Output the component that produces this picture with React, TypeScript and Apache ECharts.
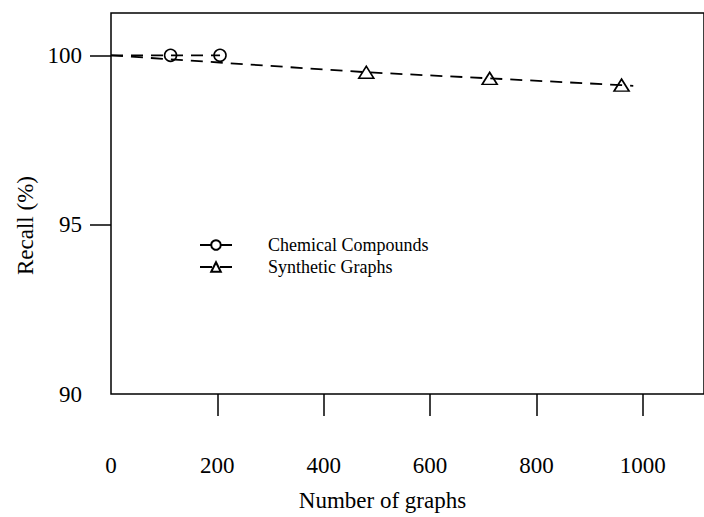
import React, { useEffect, useRef } from "react";
import * as echarts from "echarts";

const chemX = [0, 112, 205];
const chemY = [100, 100, 100];
const chemMarked = [false, true, true];

const synX = [0, 480, 712, 960, 982];
const synY = [100, 99.5, 99.32, 99.12, 99.1];
const synMarked = [false, true, true, true, false];

const xTickValues = [200, 400, 600, 800, 1000];
const xLabelValues = [0, 200, 400, 600, 800, 1000];
const yTickValues = [95, 100];
const yLabelValues = [90, 95, 100];

const seriesNames = ["Chemical Compounds", "Synthetic Graphs"];

const FONT = "'Liberation Serif', 'Times New Roman', serif";

function pts(xs: number[], ys: number[], marked: boolean[]) {
  return xs.map((x, i) => (marked[i] ? { value: [x, ys[i]] } : { value: [x, ys[i]], symbol: "none" }));
}

export default function App() {
  const ref = useRef<HTMLDivElement>(null);
  useEffect(() => {
    if (!ref.current) return;
    const chart = echarts.init(ref.current, null, { renderer: "svg" });
    const lineStyle = { color: "#000", width: 1.8, type: [12, 8] as any };
    const itemStyle = { color: "rgba(255,255,255,0)", borderColor: "#000", borderWidth: 1.6 };
    chart.setOption({
      animation: false,
      backgroundColor: "#fff",
      grid: {
        left: 111,
        top: 13,
        right: -4,
        bottom: 121,
        show: true,
        borderColor: "#000",
        borderWidth: 1.5,
        backgroundColor: "transparent",
      },
      legend: {
        orient: "vertical",
        left: 194,
        top: 230,
        itemWidth: 32,
        itemHeight: 12,
        itemGap: 2,
        data: seriesNames,
        textStyle: {
          fontFamily: FONT,
          fontSize: 18,
          color: "#000",
          lineHeight: 20,
          padding: [0, 0, 0, 31],
        },
      },
      xAxis: {
        type: "value",
        min: 0,
        max: 1115,
        interval: 200,
        name: "Number of graphs",
        nameLocation: "middle",
        nameGap: 95,
        nameTextStyle: { fontFamily: FONT, fontSize: 23, color: "#000", padding: [0, 50, 0, 0] },
        axisLine: { show: false },
        axisTick: { show: true, length: 22, inside: false, customValues: xTickValues, lineStyle: { color: "#000", width: 1.5 } },
        axisLabel: {
          customValues: xLabelValues,
          margin: 60,
          fontFamily: FONT,
          fontSize: 23,
          color: "#000",
          formatter: (v: number) => String(v),
        },
        splitLine: { show: false },
      },
      yAxis: {
        type: "value",
        min: 90,
        max: 101.25,
        interval: 5,
        name: "Recall (%)",
        nameLocation: "middle",
        nameGap: 70,
        nameTextStyle: { fontFamily: FONT, fontSize: 23, color: "#000", padding: [0, 44, 0, 0] },
        axisLine: { show: false },
        axisTick: { show: true, length: 21, inside: false, customValues: yTickValues, lineStyle: { color: "#000", width: 1.5 } },
        axisLabel: {
          customValues: yLabelValues,
          margin: 29,
          fontFamily: FONT,
          fontSize: 23,
          color: "#000",
          formatter: (v: number) => String(v),
        },
        splitLine: { show: false },
      },
      series: [
        {
          name: seriesNames[0],
          type: "line",
          data: pts(chemX, chemY, chemMarked),
          symbol: "circle",
          symbolSize: 12,
          showAllSymbol: true,
          lineStyle,
          itemStyle,
        },
        {
          name: seriesNames[1],
          type: "line",
          data: pts(synX, synY, synMarked),
          symbol: "triangle",
          symbolSize: [15, 12],
          showAllSymbol: true,
          lineStyle,
          itemStyle,
        },
      ],
    });
    return () => chart.dispose();
  }, []);
  return (
    <div
      ref={ref}
      style={{ position: "fixed", left: 0, top: 0, width: 704, height: 517, background: "#fff" }}
    />
  );
}
